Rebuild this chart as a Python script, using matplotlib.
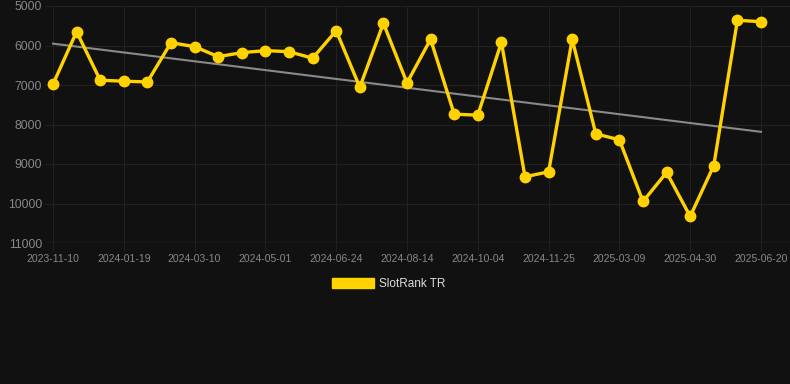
import numpy as np
import matplotlib
matplotlib.use("Agg")
import matplotlib.pyplot as plt
from matplotlib.patches import Patch

plt.rcParams['font.family'] = ['Liberation Sans', 'DejaVu Sans']

dates = ["2023-11-10", "", "", "2024-01-19", "", "", "2024-03-10", "", "", "2024-05-01",
         "", "", "2024-06-24", "", "", "2024-08-14", "", "", "2024-10-04", "", "",
         "2024-11-25", "", "", "2025-03-09", "", "", "2025-04-30", "", "", "2025-06-20"]
ranks = [6980, 5650, 6879, 6904, 6922, 5928, 6029, 6282, 6181, 6130, 6156, 6322,
         5625, 7056, 5437, 6947, 5842, 7738, 7764, 5918, 9324, 9197, 5842, 8236,
         8388, 9948, 9214, 10327, 9038, 5362, 5397]
trend_ends = [5953, 8186]
yticks = [5000, 6000, 7000, 8000, 9000, 10000, 11000]
series_name = "SlotRank TR"

bg = "#111111"
gold = "#FFD200"
fig = plt.figure(figsize=(7.9, 3.84), dpi=100, facecolor=bg)
ax = fig.add_axes([45/790, 1-243/384, 1-45/790, (243-6)/384], facecolor=bg)

x = np.arange(len(ranks))
ax.plot([x[0], x[-1]], trend_ends, color="#8a8a8a", lw=1.5, zorder=2)
ax.plot(x, ranks, color=gold, lw=2.4, marker="o", ms=7.5, zorder=3)

ax.set_ylim(11000, 5000)
ax.set_xlim(-(53-45)/23.6, 30 + (790-761)/23.6)
ax.set_yticks(yticks)
ax.set_yticklabels([str(t) for t in yticks])
tick_idx = [i for i, d in enumerate(dates) if d]
ax.set_xticks(tick_idx)
ax.set_xticklabels([dates[i] for i in tick_idx])

ax.grid(True, color="#212121", lw=0.8)
ax.set_axisbelow(True)
for s in ax.spines.values():
    s.set_visible(False)
ax.axhline(11000, color="#303030", lw=1, zorder=1)
ax.tick_params(axis='y', length=0, pad=2, labelsize=8.7, labelcolor="#888888")
ax.tick_params(axis='x', length=6, color="#212121", pad=2, labelsize=7.5, labelcolor="#888888")

leg = fig.legend(handles=[Patch(facecolor=gold, edgecolor=gold, label=series_name)],
                 loc="center", bbox_to_anchor=(389/790, 1-284/384), frameon=False,
                 handlelength=3.5, handleheight=0.9, handletextpad=0.5,
                 fontsize=8.5, labelcolor="#dddddd")

fig.savefig("out.png", dpi=100, facecolor=bg)
